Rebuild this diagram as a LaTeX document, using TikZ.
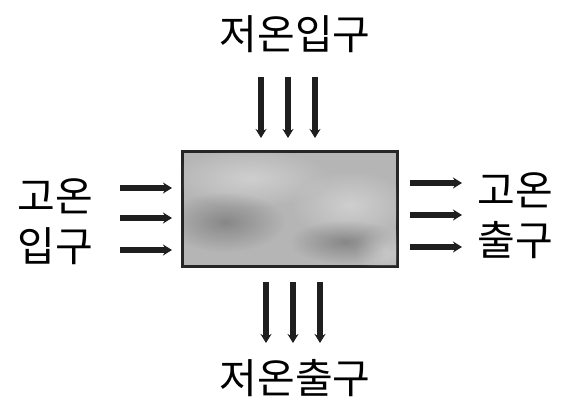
\documentclass[tikz,border=0pt]{standalone}
\usepackage{fontspec}
\newfontfamily\kr{Noto Sans CJK KR}
\usetikzlibrary{arrows.meta,fadings}
\tikzfading[name=softblot, inner color=transparent!0, outer color=transparent!100]
\begin{document}
\begin{tikzpicture}[x=1pt,y=-1pt,
  lbl/.style={font=\kr\fontsize{41}{50}\selectfont, inner sep=0pt, align=center},
  flow/.style={line width=5.5pt, -{Stealth[length=9pt,width=11pt]}, black!88},
  hx/.style={draw=black!85, line width=2pt},
  blot/.style={path fading=softblot}]
\useasboundingbox (0,0) rectangle (566,403);
\node[hx, fill=gray!58, minimum width=214pt, minimum height=114pt, inner sep=0pt] (box) at (290,209) {};
\begin{scope}
\clip (box.north west) rectangle (box.south east);
\fill[white, opacity=0.35, blot] (250,178) ellipse (80 and 30);
\fill[white, opacity=0.35, blot] (350,205) ellipse (60 and 35);
\fill[black, opacity=0.25, blot] (225,222) ellipse (60 and 30);
\fill[black, opacity=0.25, blot] (345,242) ellipse (55 and 22);
\fill[white, opacity=0.3, blot] (385,250) ellipse (30 and 25);
\end{scope}
\draw[hx] (box.north west) rectangle (box.south east);
\node[lbl] (ti) at (295,34) {저온입구};
\node[lbl] (bo) at (295,378) {저온출구};
\node[lbl] (li) at (55,222) {고온\\입구};
\node[lbl] (ro) at (515,216) {고온\\출구};
\foreach \x/\n in {261/a,288/b,315/c}{
  \coordinate (t\n) at (\x,77);
  \coordinate (tt\n) at (\x,138);
  \draw[flow] (t\n) -- (tt\n);
}
\foreach \x/\n in {266/a,293/b,320/c}{
  \coordinate (b\n) at (\x,282);
  \coordinate (bb\n) at (\x,343);
  \draw[flow] (b\n) -- (bb\n);
}
\foreach \y/\n in {188/a,218/b,250/c}{
  \coordinate (l\n) at (120,\y);
  \coordinate (ll\n) at (172,\y);
  \draw[flow] (l\n) -- (ll\n);
}
\foreach \y/\n in {183/a,215/b,247/c}{
  \coordinate (r\n) at (410,\y);
  \coordinate (rr\n) at (462,\y);
  \draw[flow] (r\n) -- (rr\n);
}
\end{tikzpicture}
\end{document}
